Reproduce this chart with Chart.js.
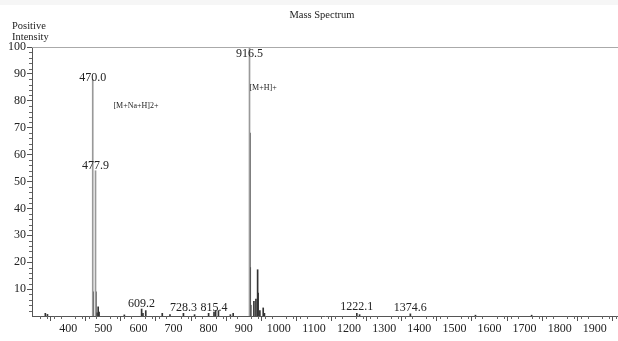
<!DOCTYPE html>
<html><head><meta charset="utf-8">
<script src="https://cdn.jsdelivr.net/npm/chart.js@4/dist/chart.umd.min.js"></script>
<style>html,body{margin:0;padding:0;background:#fff}#wrap{width:618px;height:341px;position:relative}</style>
</head><body><div id="wrap"><canvas id="c" width="618" height="341"></canvas></div>
<script>
// main (tall) peaks: m/z and relative intensity
const mainMz  = [470.0, 477.9, 916.5];
const mainInt = [88, 54, 100];
// other peaks
const minorMz  = [335, 341, 471.0, 478.9, 482, 485.5, 488, 560, 609.2, 613, 621, 668, 690, 728.3, 760, 800, 815.4, 820, 828, 862, 870, 917.5, 918.5, 920, 929, 934.8, 939.6, 941, 946, 955.5, 959, 1222.1, 1230, 1374.6, 1560, 1720];
const minorInt = [1.0, 0.6, 9, 9, 1.2, 3.4, 1.5, 0.4, 2.6, 1.0, 2.0, 1.0, 0.5, 1.0, 0.5, 1.0, 1.5, 2.0, 2.0, 0.5, 1.0, 68, 18, 4, 5.5, 6.3, 17.2, 8.5, 2, 3.0, 1.0, 1.0, 0.5, 0.8, 0.3, 0.3];
// annotations: text, m/z, intensity anchor (baseline)
const annText = ["470.0", "477.9", "916.5", "609.2", "728.3", "815.4", "1222.1", "1374.6", "[M+Na+H]2+", "[M+H]+"];
const annMz   = [470.0, 477.9, 916.5, 609.2, 728.3, 815.4, 1222.1, 1374.6, 593, 955];
const annInt  = [87.5, 54.7, 96.2, 3.3, 1.8, 1.8, 2.2, 1.8, 77.5, 84];
const annSize = [12, 12, 12, 12, 12, 12, 12, 12, 8, 8];
const yTicks = [10,20,30,40,50,60,70,80,90,100];
const xTicks = [400,500,600,700,800,900,1000,1100,1200,1300,1400,1500,1600,1700,1800,1900];

const SERIF = '"Liberation Serif", "DejaVu Serif", serif';
const ink = '#222';

const deco = {
  id: 'deco',
  beforeDraw(ch) {
    const c = ch.ctx;
    c.save(); c.fillStyle = '#f6f6f6'; c.fillRect(0, 0, ch.width, 5); c.restore();
  },
  afterDraw(ch) {
    const c = ch.ctx, x = ch.scales.x, y = ch.scales.y, a = ch.chartArea;
    c.save();
    c.fillStyle = ink; c.textAlign = 'center'; c.textBaseline = 'middle';
    c.font = '10.5px ' + SERIF;
    c.fillText('Mass Spectrum', 322, 15);
    c.textAlign = 'left';
    c.font = '10.5px ' + SERIF;
    c.fillText('Positive', 12, 26);
    c.fillText('Intensity', 12, 37);
    // top frame line
    c.strokeStyle = '#aaa'; c.lineWidth = 1;
    c.beginPath(); c.moveTo(a.left, Math.round(a.top) + 0.5); c.lineTo(ch.width, Math.round(a.top) + 0.5); c.stroke();
    // minor ticks
    c.strokeStyle = '#666';
    c.beginPath();
    for (let v = 300; v <= 1960; v += 20) {
      if (v % 100 === 0) continue;
      const px = Math.round(x.getPixelForValue(v)) + 0.5;
      c.moveTo(px, a.bottom); c.lineTo(px, a.bottom + 3);
    }
    for (let v = 2; v <= 100; v += 2) {
      if (v % 10 === 0) continue;
      const py = Math.round(y.getPixelForValue(v)) + 0.5;
      c.moveTo(a.left, py); c.lineTo(a.left - 3, py);
    }
    c.stroke();
    // annotations
    c.fillStyle = ink; c.textAlign = 'center'; c.textBaseline = 'alphabetic';
    for (let i = 0; i < annText.length; i++) {
      c.font = annSize[i] + 'px ' + SERIF;
      const px = x.getPixelForValue(annMz[i]);
      const py = y.getPixelForValue(annInt[i]);
      c.fillText(annText[i], px, py);
    }
    c.restore();
  }
};

new Chart(document.getElementById('c'), {
  type: 'bar',
  data: {
    datasets: [
      { label: 'main', data: mainMz.map((m, i) => ({x: m, y: mainInt[i]})), backgroundColor: '#999', barThickness: 1, grouped: false },
      { label: 'minor', data: minorMz.map((m, i) => ({x: m, y: minorInt[i]})), backgroundColor: '#333', barThickness: 1, grouped: false }
    ]
  },
  options: {
    responsive: false, animation: false,
    layout: { padding: { top: 47, right: 0, left: 0, bottom: 0 } },
    plugins: { legend: { display: false }, tooltip: { enabled: false } },
    scales: {
      x: {
        type: 'linear', min: 297, max: 1966, offset: false,
        afterFit(s) { s.height = 25; },
        afterBuildTicks(s) { s.ticks = xTicks.map(v => ({ value: v })); },
        border: { display: true, color: '#555', width: 1 },
        grid: { drawOnChartArea: false, drawTicks: true, tickLength: 5, color: '#555' },
        ticks: { color: ink, font: { family: SERIF, size: 12 }, padding: 1, maxRotation: 0, autoSkip: false, callback: v => String(v) }
      },
      y: {
        min: 0, max: 100,
        afterFit(s) { s.width = 32; },
        afterBuildTicks(s) { s.ticks = yTicks.map(v => ({ value: v })); },
        border: { display: true, color: '#555', width: 1 },
        grid: { drawOnChartArea: false, drawTicks: true, tickLength: 5, color: '#555' },
        ticks: { color: ink, font: { family: SERIF, size: 12 }, padding: 1, callback: v => String(v) }
      }
    }
  },
  plugins: [deco]
});
</script></body></html>
